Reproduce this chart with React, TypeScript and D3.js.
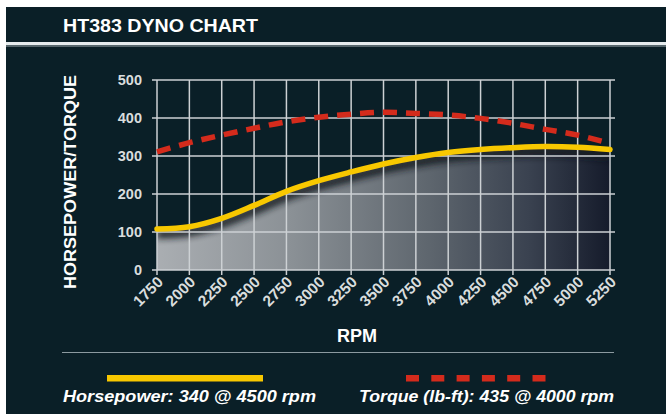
import React, { useRef, useEffect } from 'react';
import * as d3 from 'd3';

// dyno readings
const rpm = [1750, 2000, 2250, 2500, 2750, 3000, 3250, 3500, 3750, 4000, 4250, 4500, 4750, 5000, 5250];
const horsepower = [108, 114, 136, 170, 207, 235, 258, 279, 296, 309, 317, 322, 325, 323, 317];
const torque = [311, 335, 355, 373, 390, 402, 410, 415, 412, 408, 399, 386, 370, 355, 333];
const yTicks = [0, 100, 200, 300, 400, 500];

const title = 'HT383 DYNO CHART';
const yTitle = 'HORSEPOWER/TORQUE';
const xTitle = 'RPM';
const hpLabel = 'Horsepower: 340 @ 4500 rpm';
const tqLabel = 'Torque (lb-ft): 435 @ 4000 rpm';

const BG = '#0a1f27';
const GRID = '#cdd1d4';
const YELLOW = '#f8c800';
const RED = '#d42b1c';

const DynoChart = () => {
    const chartRef = useRef<SVGSVGElement>(null);

    useEffect(() => {
        const svg = d3.select(chartRef.current);
        svg.selectAll('*').remove();

        const W = 666;
        const H = 414;
        const x = d3.scaleLinear().domain([1750, 5250]).range([157, 610]);
        const y = d3.scaleLinear().domain([0, 500]).range([270, 80]);

        const defs = svg.append('defs');
        const grad = defs.append('linearGradient')
            .attr('id', 'areaGrad')
            .attr('gradientUnits', 'userSpaceOnUse')
            .attr('x1', x(1750)).attr('x2', x(5250))
            .attr('y1', 0).attr('y2', 0);
        [[0, '#aaaeb2'], [0.3, '#8a9095'], [0.6, '#5e666e'], [0.82, '#3a4250'], [1, '#151b2b']]
            .forEach(([o, c]) => grad.append('stop').attr('offset', o as number).attr('stop-color', c as string));

        const blur = defs.append('filter').attr('id', 'shadow')
            .attr('x', '-10%').attr('y', '-50%').attr('width', '120%').attr('height', '200%');
        blur.append('feGaussianBlur').attr('stdDeviation', 3);

        // frame
        svg.append('rect').attr('width', W).attr('height', H).attr('fill', '#ffffff');
        svg.append('rect').attr('x', 6).attr('y', 7).attr('width', W - 6).attr('height', H - 7).attr('fill', BG);
        svg.append('rect').attr('x', 6).attr('y', 42).attr('width', W - 6).attr('height', 3).attr('fill', '#e6ecee');
        svg.append('rect').attr('x', 6).attr('y', 45).attr('width', W - 6).attr('height', 2).attr('fill', '#56666c');

        svg.append('text')
            .attr('x', 63).attr('y', 32)
            .attr('fill', '#ffffff')
            .attr('font-family', 'Liberation Sans Narrow, Liberation Sans, Arial, sans-serif')
            .attr('font-weight', 'bold')
            .attr('font-size', 19)
            .attr('textLength', 195)
            .attr('lengthAdjust', 'spacingAndGlyphs')
            .text(title);

        const curve = d3.curveCatmullRom.alpha(0.5);

        const line = d3.line<number>()
            .x((d, i) => x(rpm[i]))
            .y((d) => y(d))
            .curve(curve);

        const hpArea = d3.area<number>()
            .x((d, i) => x(rpm[i]))
            .y0(y(0))
            .y1((d) => y(d))
            .curve(curve);

        defs.append('clipPath').attr('id', 'areaClip')
            .append('path').attr('d', hpArea(horsepower));

        // area under the horsepower curve
        svg.append('path')
            .attr('d', hpArea(horsepower))
            .attr('fill', 'url(#areaGrad)');

        // soft shadow under the curve
        svg.append('g').attr('clip-path', 'url(#areaClip)')
            .append('path')
            .attr('d', line(horsepower))
            .attr('transform', 'translate(0,5)')
            .attr('fill', 'none')
            .attr('stroke', '#161c22')
            .attr('stroke-width', 10)
            .attr('opacity', 0.85)
            .attr('filter', 'url(#shadow)');

        // grid
        const grid = svg.append('g').attr('stroke', GRID).attr('stroke-width', 1.5);
        grid.selectAll('.h').data(yTicks).join('line')
            .attr('x1', 152).attr('x2', 615)
            .attr('y1', (d) => y(d)).attr('y2', (d) => y(d));
        grid.selectAll('.v').data(rpm).join('line')
            .attr('x1', (d) => x(d)).attr('x2', (d) => x(d))
            .attr('y1', y(500)).attr('y2', y(0) + 5);

        const labelFont = 'Liberation Sans, Arial, sans-serif';

        svg.append('g').selectAll('text').data(yTicks).join('text')
            .attr('x', 142).attr('y', (d) => y(d))
            .attr('dy', '0.36em')
            .attr('text-anchor', 'end')
            .attr('fill', '#d9dddd')
            .attr('font-family', labelFont)
            .attr('font-weight', 'bold')
            .attr('font-size', 14.5)
            .text((d) => d);

        svg.append('g').selectAll('text').data(rpm).join('text')
            .attr('transform', (d) => `translate(${x(d) + 7},${283}) rotate(-45)`)
            .attr('text-anchor', 'end')
            .attr('fill', '#d9dddd')
            .attr('font-family', labelFont)
            .attr('font-weight', 'bold')
            .attr('font-size', 15.5)
            .text((d) => d);

        svg.append('text')
            .attr('transform', 'translate(76,182) rotate(-90)')
            .attr('text-anchor', 'middle')
            .attr('fill', '#ffffff')
            .attr('font-family', labelFont)
            .attr('font-weight', 'bold')
            .attr('font-size', 16)
            .attr('textLength', 214)
            .attr('lengthAdjust', 'spacingAndGlyphs')
            .text(yTitle);

        svg.append('text')
            .attr('x', 357).attr('y', 342)
            .attr('text-anchor', 'middle')
            .attr('fill', '#ffffff')
            .attr('font-family', labelFont)
            .attr('font-weight', 'bold')
            .attr('font-size', 18)
            .text(xTitle);

        // data lines
        svg.append('path')
            .datum(torque)
            .attr('d', line)
            .attr('fill', 'none')
            .attr('stroke', RED)
            .attr('stroke-width', 5.5)
            .attr('stroke-dasharray', '14 9');

        svg.append('path')
            .datum(horsepower)
            .attr('d', line)
            .attr('fill', 'none')
            .attr('stroke', YELLOW)
            .attr('stroke-width', 5.5)
            .attr('stroke-linecap', 'round');

        // legend
        svg.append('line')
            .attr('x1', 62).attr('x2', 614).attr('y1', 352.5).attr('y2', 352.5)
            .attr('stroke', '#8c9aa0').attr('stroke-width', 1.2);

        svg.append('rect')
            .attr('x', 107).attr('y', 375).attr('width', 156).attr('height', 6.5)
            .attr('fill', YELLOW);

        svg.append('g').selectAll('rect').data(d3.range(6)).join('rect')
            .attr('x', (d) => 406 + d * 25.3).attr('y', 375)
            .attr('width', 13).attr('height', 6.5)
            .attr('fill', RED);

        const legendFont = 'Liberation Sans Narrow, Liberation Sans, Arial, sans-serif';
        svg.append('text')
            .attr('x', 63).attr('y', 402)
            .attr('fill', '#ffffff')
            .attr('font-family', legendFont)
            .attr('font-weight', 'bold')
            .attr('font-style', 'italic')
            .attr('font-size', 17)
            .attr('textLength', 253)
            .attr('lengthAdjust', 'spacingAndGlyphs')
            .text(hpLabel);

        svg.append('text')
            .attr('x', 359).attr('y', 402)
            .attr('fill', '#ffffff')
            .attr('font-family', legendFont)
            .attr('font-weight', 'bold')
            .attr('font-style', 'italic')
            .attr('font-size', 17)
            .attr('textLength', 255)
            .attr('lengthAdjust', 'spacingAndGlyphs')
            .text(tqLabel);
    }, []);

    return (
        <svg
            ref={chartRef}
            width={666}
            height={414}
            style={{ position: 'absolute', left: 0, top: 0 }}
        />
    );
};

export default function App() {
    return <DynoChart />;
}
